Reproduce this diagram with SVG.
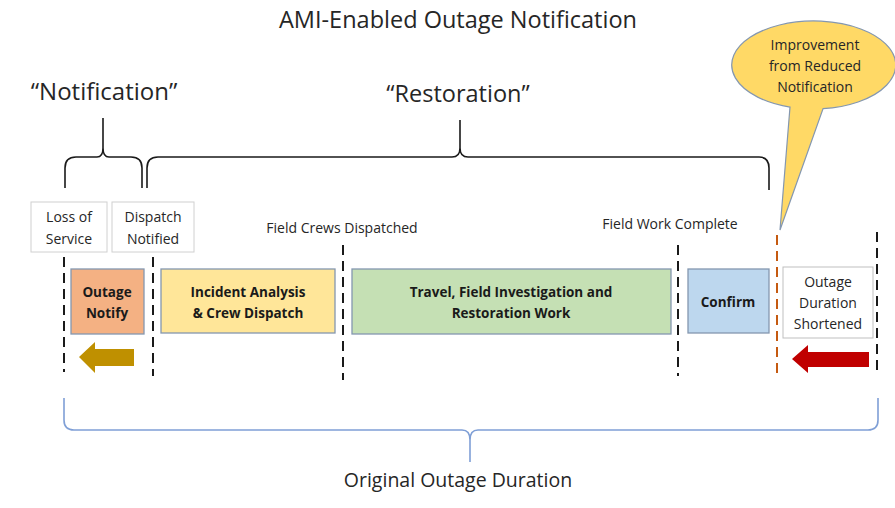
<svg xmlns="http://www.w3.org/2000/svg" width="895" height="508" viewBox="0 0 895 508">
<style>
text{font-family:"Open Sans","Liberation Sans",Arial,sans-serif;fill:#262626;text-anchor:middle}
.b{font-weight:bold;font-size:13.5px;fill:#1a1a1a}
.s{font-size:14px}
.dash{stroke:#1a1a1a;stroke-width:2;stroke-dasharray:10 6;fill:none}
.brace{fill:none;stroke:#1a1a1a;stroke-width:1.6}
.box{stroke:#8497b0;stroke-width:1.3}
</style>
<rect width="895" height="508" fill="#fff"/>
<text x="458" y="28" font-size="23.5">AMI-Enabled Outage Notification</text>
<text x="104" y="100" font-size="24">“Notification”</text>
<text x="458" y="102" font-size="23.5">“Restoration”</text>

<g id="braces">
<path class="brace" d="M65 188 L65 168 Q65 157 76 157 L97 157 Q103 157 103 148 L103 118 M103 148 Q103 157 109 157 L131 157 Q142 157 142 168 L142 188"/>
<path class="brace" d="M147 188 L147 168 Q147 157 158 157 L452 157 Q460 157 460 148 L460 120 M460 148 Q460 157 468 157 L759 157 Q769 157 769 168 L769 190"/>
<path fill="none" stroke="#7f9fd6" stroke-width="1.6" d="M64 398 L64 420 Q64 430 74 430 L462 430 Q470 430 470 440 L470 462 M470 440 Q470 430 478 430 L868 430 Q878 430 878 420 L878 398"/>
</g>

<g id="connectors">
<line class="dash" x1="64" y1="257" x2="64" y2="372"/>
<line class="dash" x1="153" y1="257" x2="153" y2="376"/>
<line class="dash" x1="343" y1="245" x2="343" y2="380"/>
<line class="dash" x1="678" y1="245" x2="678" y2="376"/>
<line class="dash" x1="777" y1="235" x2="777" y2="376" style="stroke:#c55a11"/>
<line class="dash" x1="877" y1="232" x2="877" y2="372"/>
</g>

<g id="loss-of-service">
<rect x="31" y="202" width="76" height="50" fill="#fff" stroke="#d0d0d0"/>
<text class="s" x="69" y="222">Loss of</text>
<text class="s" x="69" y="244">Service</text>
</g>
<g id="dispatch-notified">
<rect x="112" y="202" width="82" height="50" fill="#fff" stroke="#d0d0d0"/>
<text class="s" x="153" y="222">Dispatch</text>
<text class="s" x="153" y="244">Notified</text>
</g>
<g id="field-crews-label"><text class="s" x="342" y="233">Field Crews Dispatched</text></g>
<g id="field-work-label"><text class="s" x="670" y="229" font-size="14.5">Field Work Complete</text></g>

<g id="outage-notify">
<rect class="box" x="71" y="269" width="73" height="65" fill="#f4b183"/>
<text class="b" x="107" y="297">Outage</text>
<text class="b" x="107" y="318">Notify</text>
</g>
<g id="incident-analysis">
<rect class="box" x="161" y="269" width="174" height="64" fill="#ffe699"/>
<text class="b" x="248" y="297">Incident Analysis</text>
<text class="b" x="248" y="318">&amp; Crew Dispatch</text>
</g>
<g id="travel">
<rect class="box" x="352" y="269" width="319" height="65" fill="#c5e0b4"/>
<text class="b" x="511" y="297">Travel, Field Investigation and</text>
<text class="b" x="511" y="318">Restoration Work</text>
</g>
<g id="confirm">
<rect class="box" x="688" y="269" width="81" height="64" fill="#bdd7ee"/>
<text class="b" x="728" y="307">Confirm</text>
</g>
<g id="outage-shortened">
<rect x="783" y="267" width="90" height="71" fill="#fff" stroke="#bfbfbf"/>
<text class="s" x="828" y="287">Outage</text>
<text class="s" x="828" y="308">Duration</text>
<text class="s" x="828" y="329">Shortened</text>
</g>

<g id="callout">
<path d="M790 107.1 A82 44 0 1 1 823 108.7 L780 230 Z" fill="#ffd966" stroke="#8497b0" stroke-width="1.2"/>
<text class="s" x="815" y="50">Improvement</text>
<text class="s" x="815" y="71">from Reduced</text>
<text class="s" x="815" y="92">Notification</text>
</g>

<g id="arrows">
<polygon points="79,357 95,342 95,349 134,349 134,366 95,366 95,373" fill="#bf9000"/>
<polygon points="792,359 808,345 808,352 869,352 869,367 808,367 808,373" fill="#c00000"/>
</g>

<g id="duration-label"><text x="458" y="487" font-size="19.5">Original Outage Duration</text></g>
</svg>
